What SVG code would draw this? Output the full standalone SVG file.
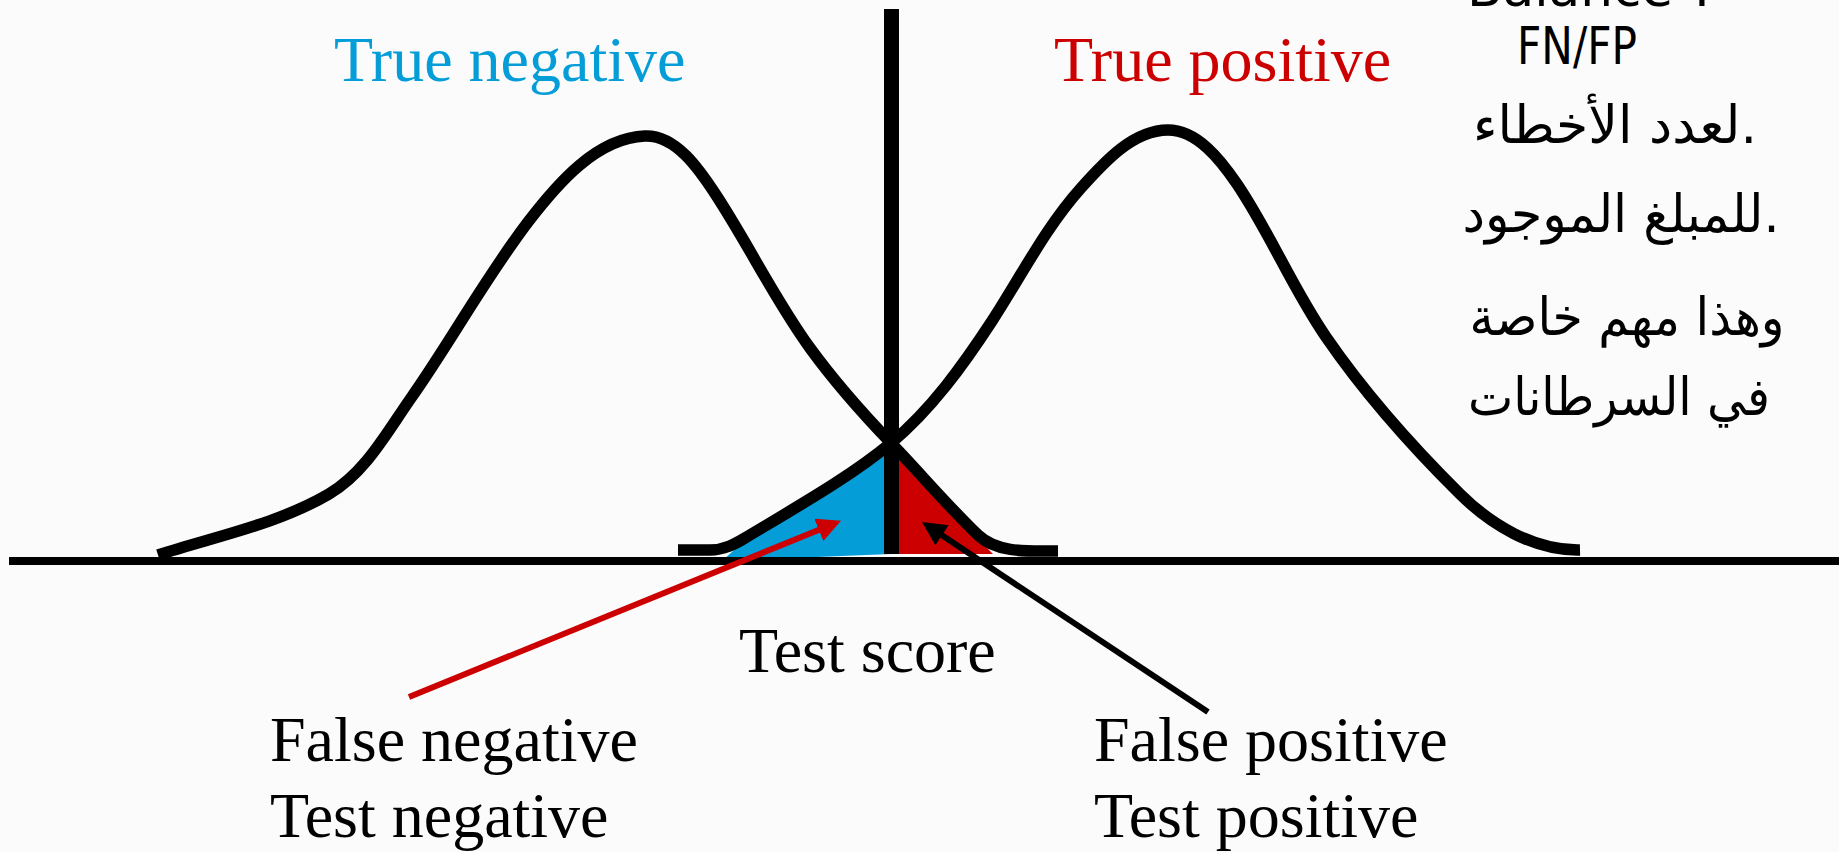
<svg xmlns="http://www.w3.org/2000/svg" width="1839" height="852" viewBox="0 0 1839 852">
<style>
.crv{fill:none;stroke:#000;stroke-width:11.5;stroke-linejoin:round;stroke-linecap:butt}
.lbl{font-family:"Liberation Serif","Times New Roman",serif;font-size:64px;fill:#000}
.hw{font-family:"DejaVu Sans","Noto Sans",sans-serif;font-size:52px;fill:#000}
.axis{stroke:#000;stroke-width:8}
</style>
<defs>
<marker id="ahR" viewBox="0 0 10 10" markerWidth="4" markerHeight="4" refX="1" refY="5" orient="auto" markerUnits="strokeWidth">
<path d="M0,0 L10,5 L0,10 Z" fill="#cc0000"/>
</marker>
<marker id="ahK" viewBox="0 0 10 10" markerWidth="4" markerHeight="4" refX="1" refY="5" orient="auto" markerUnits="strokeWidth">
<path d="M0,0 L10,5 L0,10 Z" fill="#000"/>
</marker>
</defs>
<rect x="0" y="0" width="1839" height="852" fill="#fbfbfb"/>

<g id="regions">
<path id="false-negative-area" d="M722,561 L745,540 L891,447 L891,554 Z" fill="#049dd8"/>
<path id="false-positive-area" d="M891,450 L993,554 L891,554 Z" fill="#cc0000"/>
</g>

<g id="axis">
<line class="axis" x1="9" y1="561" x2="1839" y2="561"/>
</g>

<g id="negative-curve">
<path class="crv" d="M158,555 C215.5,536.3 276.8,524.5 329,494 C365.3,472.7 386.8,432.5 411,398 C451.5,340.3 485.3,278 528,222 C557.4,183.5 596.6,137.9 645,136 C675.8,134.8 699.2,169.2 716,195 C748.8,245.1 774.8,299.5 810,348 C834.8,382.1 862.8,413.7 892,444 C920.8,474 948,506.2 978,535 C997.7,553.8 1030.7,551 1058,551"/>
</g>

<g id="positive-curve">
<path class="crv" d="M678,550 L710,550 C724,550 735,544 745,538 C800,505 851,476.2 891,443 C931,409.8 963.4,364.8 992,321 C1021.1,276.3 1045.4,227.7 1081,188 C1104.3,162 1133.1,130 1168,130 C1197.2,130 1220.6,159.8 1237,184 C1270,232.9 1292.5,288.4 1326,337 C1365,393.7 1411.1,445.6 1460,494 C1490.7,524.4 1534,551 1580,550"/>
</g>

<g id="threshold">
<line x1="891.5" y1="9" x2="891.5" y2="554" stroke="#000" stroke-width="15"/>
</g>

<g id="connectors">
<line id="arrow-fn" x1="409" y1="697" x2="821" y2="529" stroke="#cc0000" stroke-width="6" marker-end="url(#ahR)"/>
<line id="arrow-fp" x1="1208" y1="712" x2="940" y2="534" stroke="#000" stroke-width="6" marker-end="url(#ahK)"/>
</g>

<g id="label-true-negative"><text class="lbl" x="334" y="81" style="fill:#049dd8">True negative</text></g>
<g id="label-true-positive"><text class="lbl" x="1054" y="81" style="fill:#cc0000">True positive</text></g>
<g id="label-test-score"><text class="lbl" x="739" y="672">Test score</text></g>
<g id="label-false-negative">
<text class="lbl" x="270" y="761">False negative</text>
<text class="lbl" x="270" y="837">Test negative</text>
</g>
<g id="label-false-positive">
<text class="lbl" x="1094" y="761">False positive</text>
<text class="lbl" x="1094" y="837">Test positive</text>
</g>

<g id="handwritten-notes">
<text class="hw" x="1467" y="6" font-size="40" textLength="250" lengthAdjust="spacingAndGlyphs">Balance ?</text>
<text class="hw" x="1517" y="64" font-size="46" textLength="120" lengthAdjust="spacingAndGlyphs">FN/FP</text>
<text class="hw" x="1615" y="143" text-anchor="middle" textLength="284" lengthAdjust="spacingAndGlyphs">لعدد الأخطاء.</text>
<text class="hw" x="1621" y="232" text-anchor="middle" textLength="317" lengthAdjust="spacingAndGlyphs">للمبلغ الموجود.</text>
<text class="hw" x="1627" y="335" text-anchor="middle" textLength="315" lengthAdjust="spacingAndGlyphs">وهذا مهم خاصة</text>
<text class="hw" x="1619" y="415" text-anchor="middle" textLength="302" lengthAdjust="spacingAndGlyphs">في السرطانات</text>
</g>
</svg>
